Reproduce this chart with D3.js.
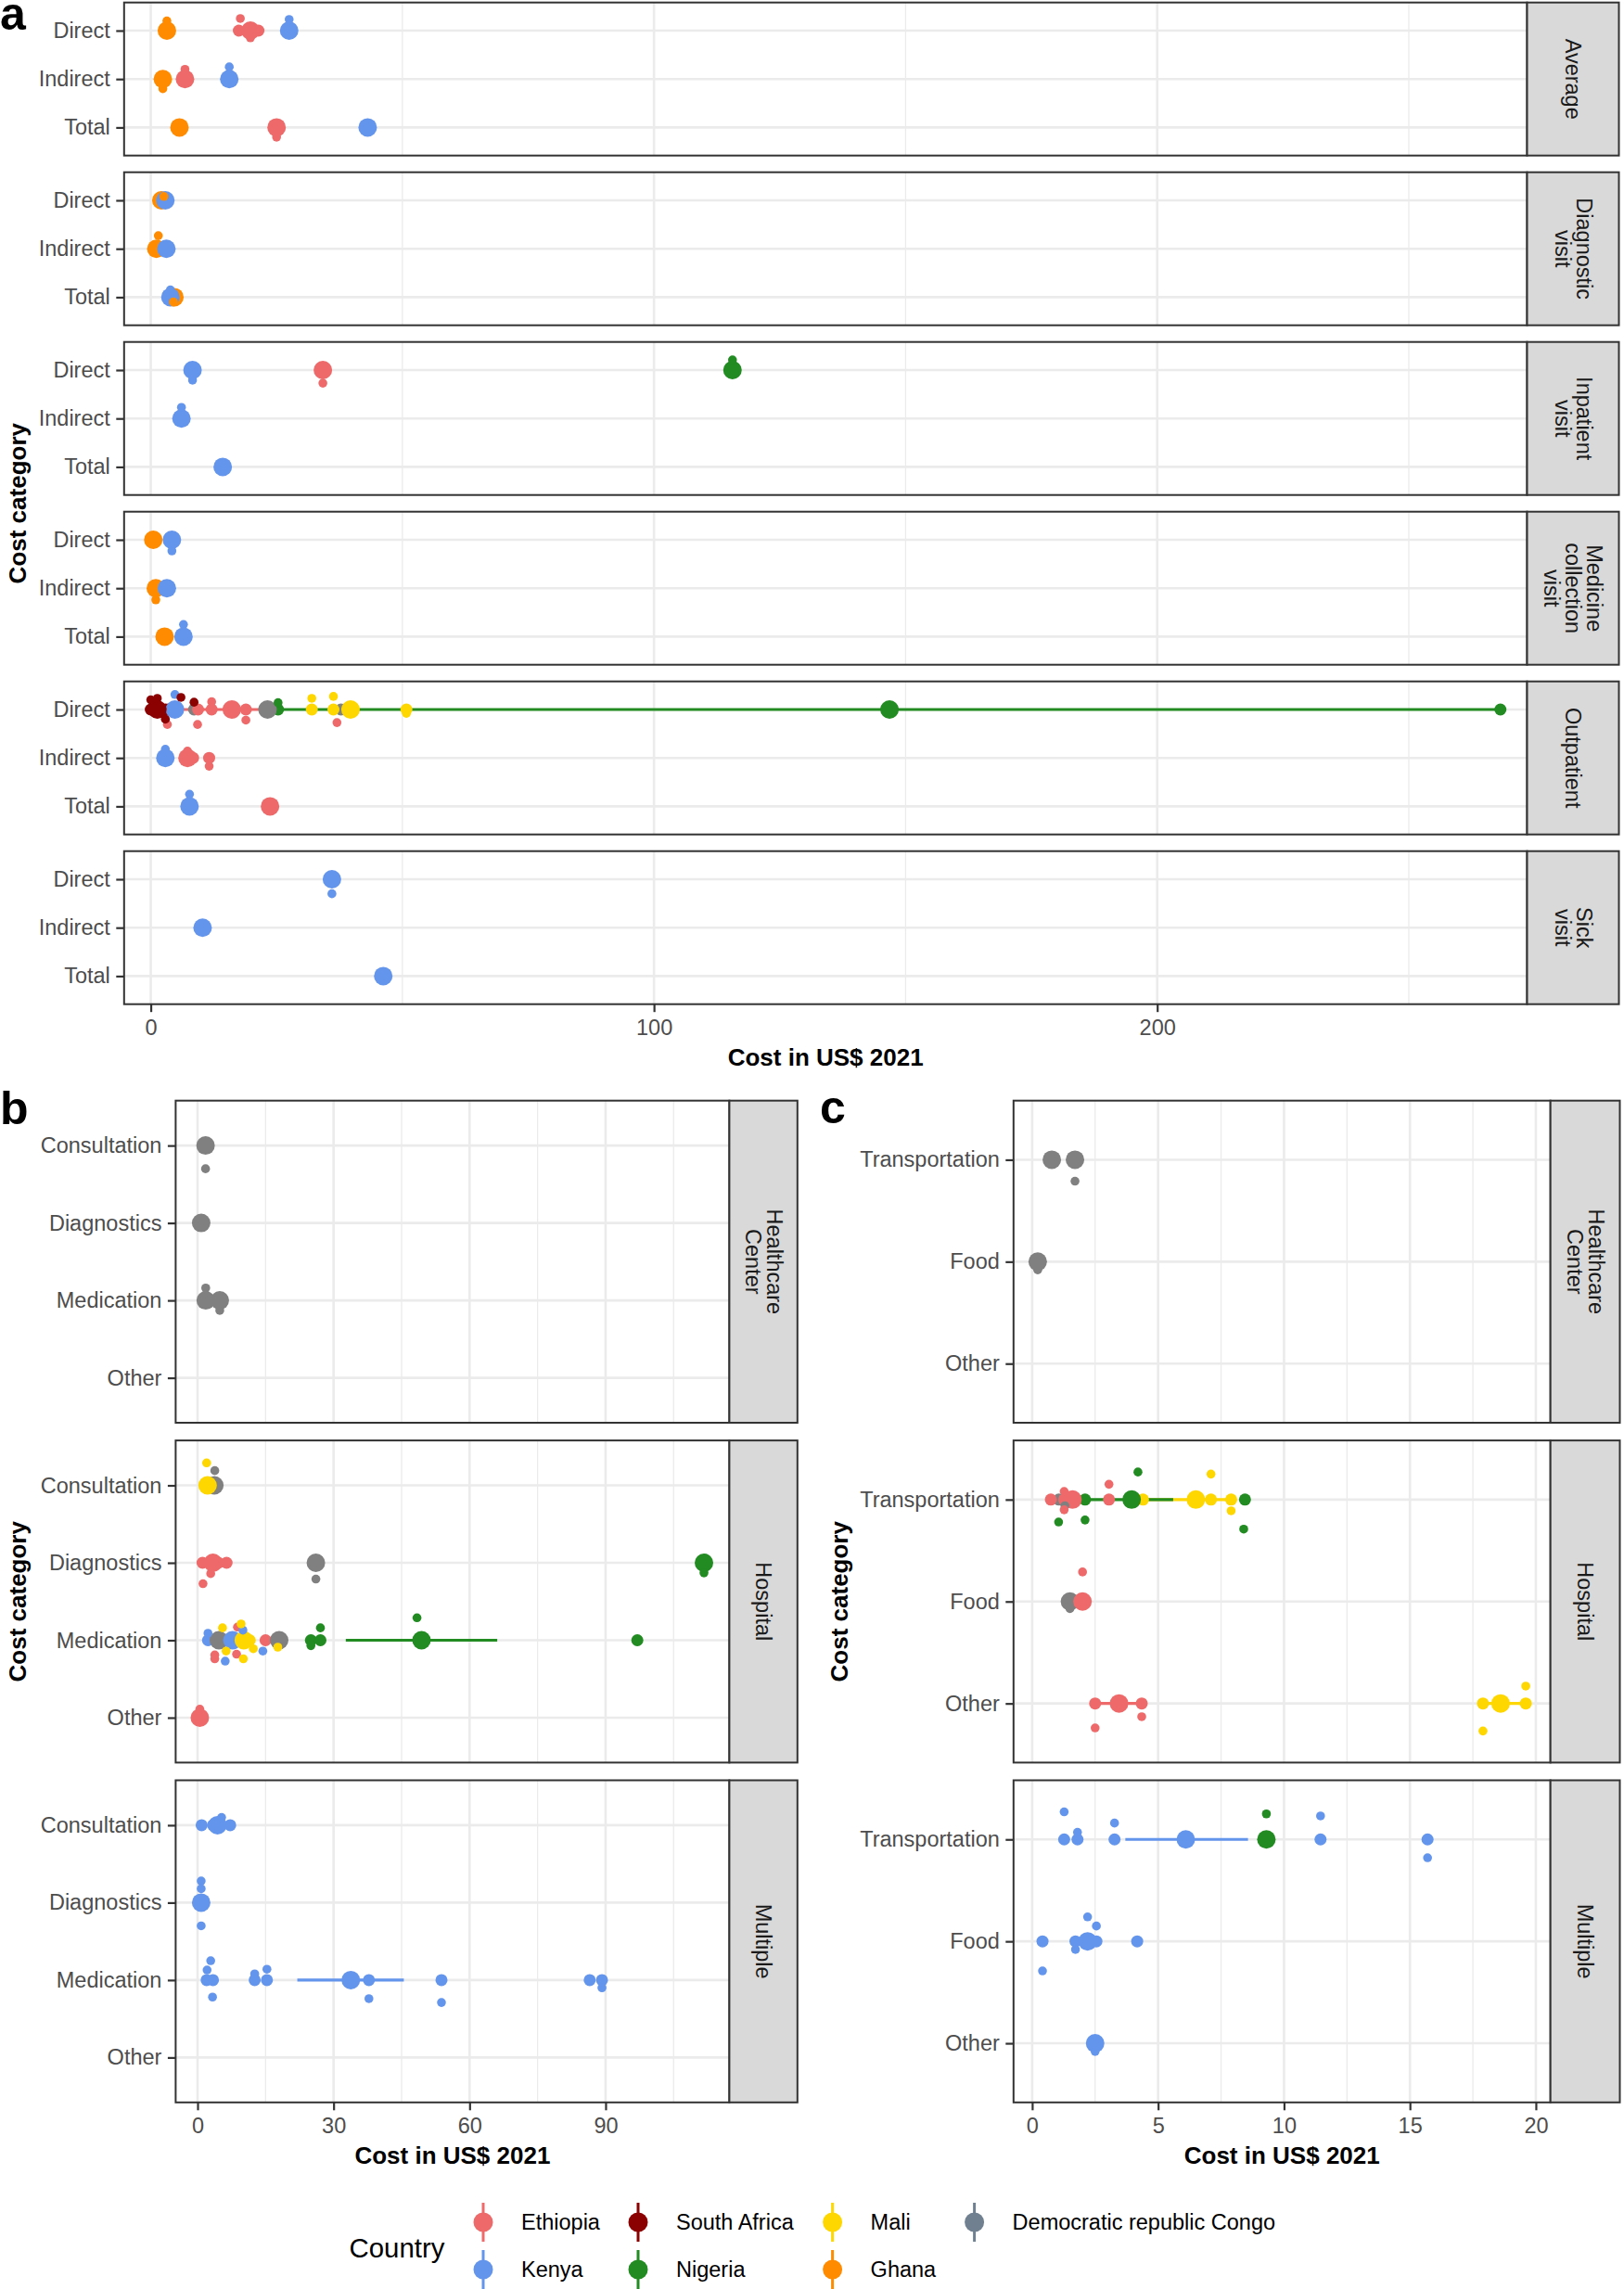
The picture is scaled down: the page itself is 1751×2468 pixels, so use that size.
<!DOCTYPE html>
<html><head><meta charset="utf-8">
<script src="https://cdn.jsdelivr.net/npm/d3@7"></script>
<style>
body{margin:0;background:#fff}
svg{display:block}
text{font-family:"Liberation Sans",Arial,Helvetica,sans-serif}
</style>
</head><body>
<svg id="chart" width="1751" height="2468"></svg>
<script>
// ---------------- DATA ----------------
const countryCodes = ["ET","KE","ZA","NG","ML","GH","CD"];
const countryNames = ["Ethiopia","Kenya","South Africa","Nigeria","Mali","Ghana","Democratic republic Congo"];
const countryColors = ["#EE6A6A","#6495ED","#8B0000","#228B22","#FFD700","#FF8C00","#808080"];
const legendColors = ["#EE6A6A","#6495ED","#8B0000","#228B22","#FFD700","#FF8C00","#708090"];

const facetsA = ["Average","Diagnostic visit","Inpatient visit","Medicine collection visit","Outpatient","Sick visit"];
const stripA = [["Average"],["Diagnostic","visit"],["Inpatient","visit"],["Medicine","collection","visit"],["Outpatient"],["Sick","visit"]];
const catsA = ["Direct","Indirect","Total"];
const ticksA = [0,100,200];
const minorA = [50,150,250];

const facetsBC = ["Healthcare Center","Hospital","Multiple"];
const stripBC = [["Healthcare","Center"],["Hospital"],["Multiple"]];
const catsB = ["Consultation","Diagnostics","Medication","Other"];
const ticksB = [0,30,60,90];
const minorB = [15,45,75,105];
const catsC = ["Transportation","Food","Other"];
const ticksC = [0,5,10,15,20];
const minorC = [2.5,7.5,12.5,17.5];

// [facet, category, country, cost, jitter (category units), kind: p=pooled, s=study, j=jittered study]
const pointsA = [
 ["Average","Direct","GH",3.2,0,"p"],["Average","Direct","GH",3.2,-0.2,"j"],
 ["Average","Direct","ET",17.5,0,"s"],["Average","Direct","ET",21.4,0,"s"],["Average","Direct","ET",19.8,0,"p"],
 ["Average","Direct","ET",17.8,-0.25,"j"],["Average","Direct","ET",19.8,0.15,"j"],
 ["Average","Direct","KE",27.5,0,"p"],["Average","Direct","KE",27.5,-0.23,"j"],
 ["Average","Indirect","GH",2.4,0,"p"],["Average","Indirect","GH",2.4,0.2,"j"],
 ["Average","Indirect","ET",6.8,0,"p"],["Average","Indirect","ET",6.8,-0.2,"j"],
 ["Average","Indirect","KE",15.6,0,"p"],["Average","Indirect","KE",15.6,-0.25,"j"],
 ["Average","Total","GH",5.7,0,"p"],
 ["Average","Total","ET",25.0,0,"p"],["Average","Total","ET",25.0,0.2,"j"],
 ["Average","Total","KE",43.1,0,"p"],
 ["Diagnostic visit","Direct","GH",2.1,0,"p"],["Diagnostic visit","Direct","KE",2.9,0,"p"],["Diagnostic visit","Direct","GH",2.6,-0.08,"j"],
 ["Diagnostic visit","Indirect","GH",1.1,0,"p"],["Diagnostic visit","Indirect","GH",1.5,-0.27,"j"],["Diagnostic visit","Indirect","KE",3.1,0,"p"],
 ["Diagnostic visit","Total","KE",3.9,0,"p"],["Diagnostic visit","Total","GH",4.7,0,"p"],["Diagnostic visit","Total","GH",4.5,0.1,"j"],["Diagnostic visit","Total","KE",3.9,-0.15,"j"],
 ["Inpatient visit","Direct","KE",8.3,0,"p"],["Inpatient visit","Direct","KE",8.3,0.21,"j"],
 ["Inpatient visit","Direct","ET",34.2,0,"p"],["Inpatient visit","Direct","ET",34.2,0.27,"j"],
 ["Inpatient visit","Direct","NG",115.6,0,"p"],["Inpatient visit","Direct","NG",115.6,-0.21,"j"],
 ["Inpatient visit","Indirect","KE",6.1,0,"p"],["Inpatient visit","Indirect","KE",6.1,-0.23,"j"],
 ["Inpatient visit","Total","KE",14.3,0,"p"],
 ["Medicine collection visit","Direct","GH",0.5,0,"p"],["Medicine collection visit","Direct","KE",4.2,0,"p"],["Medicine collection visit","Direct","KE",4.2,0.23,"j"],
 ["Medicine collection visit","Indirect","GH",1.0,0,"p"],["Medicine collection visit","Indirect","GH",1.0,0.24,"j"],["Medicine collection visit","Indirect","KE",3.2,0,"p"],
 ["Medicine collection visit","Total","GH",2.75,0,"p"],["Medicine collection visit","Total","KE",6.5,0,"p"],["Medicine collection visit","Total","KE",6.5,-0.25,"j"],
 ["Outpatient","Direct","ZA",0.0,0,"s"],["Outpatient","Direct","ZA",2.9,0,"s"],["Outpatient","Direct","ZA",3.5,0,"s"],["Outpatient","Direct","ZA",1.3,0,"p"],
 ["Outpatient","Direct","ZA",0.0,-0.2,"j"],["Outpatient","Direct","ZA",1.3,-0.23,"j"],["Outpatient","Direct","ZA",6.0,-0.25,"j"],["Outpatient","Direct","ZA",8.6,-0.15,"j"],["Outpatient","Direct","ZA",2.9,0.2,"j"],
 ["Outpatient","Direct","KE",4.8,0,"p"],["Outpatient","Direct","KE",4.8,-0.31,"j"],
 ["Outpatient","Direct","CD",8.6,0,"s"],["Outpatient","Direct","CD",23.2,0,"p"],["Outpatient","Direct","CD",37.8,0,"s"],
 ["Outpatient","Direct","ET",9.4,0,"s"],["Outpatient","Direct","ET",12.1,0,"s"],["Outpatient","Direct","ET",16.1,0,"p"],["Outpatient","Direct","ET",18.9,0,"s"],
 ["Outpatient","Direct","ET",12.1,-0.16,"j"],["Outpatient","Direct","ET",3.3,0.31,"j"],["Outpatient","Direct","ET",9.3,0.31,"j"],["Outpatient","Direct","ET",18.9,0.22,"j"],["Outpatient","Direct","ET",37.0,0.27,"j"],
 ["Outpatient","Direct","NG",25.3,0,"s"],["Outpatient","Direct","NG",25.3,-0.14,"j"],["Outpatient","Direct","NG",146.8,0,"p"],["Outpatient","Direct","NG",268.2,0,"s"],
 ["Outpatient","Direct","ML",32.0,0,"s"],["Outpatient","Direct","ML",32.0,-0.23,"j"],["Outpatient","Direct","ML",36.3,0,"s"],["Outpatient","Direct","ML",36.3,-0.27,"j"],
 ["Outpatient","Direct","ML",39.7,0,"p"],["Outpatient","Direct","ML",50.8,0,"s"],["Outpatient","Direct","ML",50.8,0.08,"j"],
 ["Outpatient","Indirect","KE",2.9,0,"p"],["Outpatient","Indirect","KE",2.9,-0.18,"j"],
 ["Outpatient","Indirect","ET",7.3,0,"p"],["Outpatient","Indirect","ET",8.4,0,"s"],["Outpatient","Indirect","ET",11.6,0,"s"],
 ["Outpatient","Indirect","ET",11.6,0.17,"j"],["Outpatient","Indirect","ET",7.3,-0.14,"j"],
 ["Outpatient","Total","KE",7.7,0,"p"],["Outpatient","Total","KE",7.7,-0.25,"j"],["Outpatient","Total","ET",23.7,0,"p"],
 ["Sick visit","Direct","KE",36.0,0,"p"],["Sick visit","Direct","KE",36.0,0.3,"j"],
 ["Sick visit","Indirect","KE",10.3,0,"p"],
 ["Sick visit","Total","KE",46.2,0,"p"]
];
// [facet, category, country, low, high]
const rangesA = [
 ["Outpatient","Direct","ET",6.5,22.0],
 ["Outpatient","Direct","NG",25.3,268.2]
];

const pointsB = [
 ["Healthcare Center","Consultation","CD",1.76,0,"p"],["Healthcare Center","Consultation","CD",1.76,0.3,"j"],
 ["Healthcare Center","Diagnostics","CD",0.8,0,"p"],
 ["Healthcare Center","Medication","CD",1.8,0,"p"],["Healthcare Center","Medication","CD",1.8,-0.16,"j"],
 ["Healthcare Center","Medication","CD",4.9,0,"p"],["Healthcare Center","Medication","CD",4.9,0.13,"j"],
 ["Hospital","Consultation","ML",2.2,0,"p"],["Hospital","Consultation","CD",3.7,0,"p"],
 ["Hospital","Consultation","ML",2.0,-0.29,"j"],["Hospital","Consultation","CD",3.8,-0.19,"j"],
 ["Hospital","Diagnostics","ET",1.1,0,"s"],["Hospital","Diagnostics","ET",4.6,0,"s"],["Hospital","Diagnostics","ET",6.4,0,"s"],["Hospital","Diagnostics","ET",3.4,0,"p"],
 ["Hospital","Diagnostics","ET",2.9,0.14,"j"],["Hospital","Diagnostics","ET",1.2,0.27,"j"],
 ["Hospital","Diagnostics","CD",26.1,0,"p"],["Hospital","Diagnostics","CD",26.1,0.21,"j"],
 ["Hospital","Diagnostics","NG",111.7,0,"p"],["Hospital","Diagnostics","NG",111.7,0.13,"j"],
 ["Hospital","Medication","KE",2.3,0,"s"],["Hospital","Medication","KE",7.7,0,"p"],
 ["Hospital","Medication","KE",6.1,0.27,"j"],["Hospital","Medication","KE",14.4,0.14,"j"],["Hospital","Medication","KE",10.0,-0.13,"j"],["Hospital","Medication","KE",2.3,-0.09,"j"],
 ["Hospital","Medication","CD",4.7,0,"p"],["Hospital","Medication","CD",18.0,0,"p"],
 ["Hospital","Medication","ML",11.5,0,"s"],["Hospital","Medication","ML",10.2,0,"p"],
 ["Hospital","Medication","ML",5.5,-0.16,"j"],["Hospital","Medication","ML",9.6,-0.21,"j"],["Hospital","Medication","ML",6.3,0.14,"j"],
 ["Hospital","Medication","ML",10.1,0.24,"j"],["Hospital","Medication","ML",12.3,0.11,"j"],["Hospital","Medication","ML",17.7,0.09,"j"],
 ["Hospital","Medication","ET",15.0,0,"s"],
 ["Hospital","Medication","ET",3.8,0.19,"j"],["Hospital","Medication","ET",3.8,0.24,"j"],["Hospital","Medication","ET",8.6,0.18,"j"],["Hospital","Medication","ET",8.8,-0.17,"j"],
 ["Hospital","Medication","NG",25.0,0,"s"],["Hospital","Medication","NG",27.1,0,"s"],["Hospital","Medication","NG",49.4,0,"p"],["Hospital","Medication","NG",97.0,0,"s"],
 ["Hospital","Medication","NG",27.1,-0.16,"j"],["Hospital","Medication","NG",25.0,0.07,"j"],["Hospital","Medication","NG",48.4,-0.29,"j"],
 ["Hospital","Other","ET",0.5,0,"p"],["Hospital","Other","ET",0.5,-0.11,"j"],
 ["Multiple","Consultation","KE",0.9,0,"s"],["Multiple","Consultation","KE",3.4,0,"s"],["Multiple","Consultation","KE",7.2,0,"s"],["Multiple","Consultation","KE",4.4,0,"p"],
 ["Multiple","Consultation","KE",5.3,-0.1,"j"],
 ["Multiple","Diagnostics","KE",0.8,0,"p"],["Multiple","Diagnostics","KE",0.8,-0.28,"j"],["Multiple","Diagnostics","KE",0.8,-0.18,"j"],["Multiple","Diagnostics","KE",0.8,0.3,"j"],
 ["Multiple","Medication","KE",2.0,0,"s"],["Multiple","Medication","KE",3.4,0,"s"],
 ["Multiple","Medication","KE",2.9,-0.25,"j"],["Multiple","Medication","KE",2.1,-0.13,"j"],["Multiple","Medication","KE",3.3,0.22,"j"],
 ["Multiple","Medication","KE",12.6,0,"s"],["Multiple","Medication","KE",15.3,0,"s"],["Multiple","Medication","KE",12.6,-0.08,"j"],["Multiple","Medication","KE",15.3,-0.14,"j"],
 ["Multiple","Medication","KE",33.8,0,"p"],
 ["Multiple","Medication","KE",37.8,0,"s"],["Multiple","Medication","KE",37.8,0.24,"j"],
 ["Multiple","Medication","KE",53.8,0,"s"],["Multiple","Medication","KE",53.8,0.29,"j"],
 ["Multiple","Medication","KE",86.5,0,"s"],["Multiple","Medication","KE",89.2,0,"s"],["Multiple","Medication","KE",89.2,0.1,"j"]
];
const rangesB = [
 ["Hospital","Medication","NG",32.7,66.1],
 ["Multiple","Medication","KE",22.0,45.5]
];

const pointsC = [
 ["Healthcare Center","Transportation","CD",0.78,0,"p"],["Healthcare Center","Transportation","CD",1.7,0,"p"],["Healthcare Center","Transportation","CD",1.7,0.21,"j"],
 ["Healthcare Center","Food","CD",0.22,0,"p"],["Healthcare Center","Food","CD",0.22,0.08,"j"],
 ["Hospital","Transportation","ET",0.74,0,"s"],["Hospital","Transportation","ET",1.27,0,"s"],["Hospital","Transportation","ET",1.72,0,"s"],["Hospital","Transportation","ET",3.05,0,"s"],
 ["Hospital","Transportation","ET",1.6,0,"p"],
 ["Hospital","Transportation","ET",1.27,-0.08,"j"],["Hospital","Transportation","ET",1.27,0.1,"j"],["Hospital","Transportation","ET",3.05,-0.15,"j"],
 ["Hospital","Transportation","CD",1.06,0,"s"],["Hospital","Transportation","CD",1.3,0.06,"j"],
 ["Hospital","Transportation","NG",2.1,0,"s"],["Hospital","Transportation","NG",8.45,0,"s"],["Hospital","Transportation","NG",3.95,0,"p"],
 ["Hospital","Transportation","NG",4.2,-0.27,"j"],["Hospital","Transportation","NG",1.05,0.22,"j"],["Hospital","Transportation","NG",2.1,0.2,"j"],["Hospital","Transportation","NG",8.4,0.29,"j"],
 ["Hospital","Transportation","ML",4.4,0,"s"],["Hospital","Transportation","ML",7.1,0,"s"],["Hospital","Transportation","ML",7.9,0,"s"],["Hospital","Transportation","ML",6.5,0,"p"],
 ["Hospital","Transportation","ML",7.1,-0.25,"j"],["Hospital","Transportation","ML",7.9,0.11,"j"],
 ["Hospital","Food","CD",1.5,0,"p"],["Hospital","Food","CD",1.5,0.07,"j"],
 ["Hospital","Food","ET",2.0,0,"p"],["Hospital","Food","ET",2.0,-0.29,"j"],
 ["Hospital","Other","ET",2.5,0,"s"],["Hospital","Other","ET",4.35,0,"s"],["Hospital","Other","ET",3.45,0,"p"],
 ["Hospital","Other","ET",4.35,0.13,"j"],["Hospital","Other","ET",2.5,0.24,"j"],
 ["Hospital","Other","ML",17.9,0,"s"],["Hospital","Other","ML",19.6,0,"s"],["Hospital","Other","ML",18.6,0,"p"],
 ["Hospital","Other","ML",19.6,-0.17,"j"],["Hospital","Other","ML",17.9,0.27,"j"],
 ["Multiple","Transportation","KE",1.27,0,"s"],["Multiple","Transportation","KE",1.8,0,"s"],["Multiple","Transportation","KE",3.27,0,"s"],
 ["Multiple","Transportation","KE",1.27,-0.27,"j"],["Multiple","Transportation","KE",1.8,-0.07,"j"],["Multiple","Transportation","KE",3.27,-0.16,"j"],
 ["Multiple","Transportation","KE",6.1,0,"p"],
 ["Multiple","Transportation","NG",9.3,0,"p"],["Multiple","Transportation","NG",9.3,-0.25,"j"],
 ["Multiple","Transportation","KE",11.45,0,"s"],["Multiple","Transportation","KE",11.45,-0.23,"j"],
 ["Multiple","Transportation","KE",15.7,0,"s"],["Multiple","Transportation","KE",15.7,0.18,"j"],
 ["Multiple","Food","KE",0.41,0,"s"],["Multiple","Food","KE",0.41,0.29,"j"],
 ["Multiple","Food","KE",1.72,0,"s"],["Multiple","Food","KE",1.72,0.08,"j"],
 ["Multiple","Food","KE",2.55,0,"s"],["Multiple","Food","KE",4.17,0,"s"],["Multiple","Food","KE",2.2,0,"p"],
 ["Multiple","Food","KE",2.2,-0.24,"j"],["Multiple","Food","KE",2.55,-0.15,"j"],
 ["Multiple","Other","KE",2.5,0,"p"],["Multiple","Other","KE",2.5,0.08,"j"]
];
const rangesC = [
 ["Hospital","Transportation","ML",4.4,7.9],
 ["Hospital","Transportation","NG",2.1,5.6],
 ["Hospital","Other","ET",2.5,4.35],
 ["Hospital","Other","ML",17.9,19.6],
 ["Multiple","Transportation","KE",3.7,8.57]
];

// ---------------- DRAWING ----------------
const svg = d3.select("#chart");
svg.append("rect").attr("width",1751).attr("height",2468).attr("fill","#fff");
const colorOf = d3.scaleOrdinal().domain(countryCodes).range(countryColors);
const nameOf = d3.scaleOrdinal().domain(countryCodes).range(countryNames);
const radius = {p:10, s:6.5, j:4.8};
const kindOrder = {s:0, p:1, j:2};
let clipId = 0;

function drawGroup(cfg){
  const x = d3.scaleLinear().domain(cfg.domain).range([cfg.left, cfg.right]);
  cfg.facets.forEach((f, i) => {
    const top = cfg.top0 + i * cfg.pitch;
    const bottom = top + cfg.H;
    const y = d3.scalePoint().domain(cfg.cats).range([top, bottom]).padding(0.58);
    const step = y.step();
    const g = svg.append("g");
    const id = "clip" + (clipId++);
    svg.append("clipPath").attr("id", id).append("rect")
      .attr("x", cfg.left).attr("y", top).attr("width", cfg.right - cfg.left).attr("height", cfg.H);
    // grid
    const grid = g.append("g");
    grid.selectAll(".mn").data(cfg.minor).join("line")
      .attr("x1", d => x(d)).attr("x2", d => x(d)).attr("y1", top).attr("y2", bottom)
      .attr("stroke", "#EBEBEB").attr("stroke-width", 1.3);
    grid.selectAll(".mj").data(cfg.ticks).join("line")
      .attr("x1", d => x(d)).attr("x2", d => x(d)).attr("y1", top).attr("y2", bottom)
      .attr("stroke", "#EBEBEB").attr("stroke-width", 2.6);
    grid.selectAll(".hz").data(cfg.cats).join("line")
      .attr("x1", cfg.left).attr("x2", cfg.right).attr("y1", d => y(d)).attr("y2", d => y(d))
      .attr("stroke", "#EBEBEB").attr("stroke-width", 2.6);
    const cg = g.append("g").attr("clip-path", `url(#${id})`);
    const rs = cfg.ranges.filter(r => r[0] === f).sort((a, b) => d3.ascending(nameOf(a[2]), nameOf(b[2])));
    cg.selectAll(".rng").data(rs).join("line")
      .attr("x1", d => x(d[3])).attr("x2", d => x(d[4]))
      .attr("y1", d => y(d[1])).attr("y2", d => y(d[1]))
      .attr("stroke", d => colorOf(d[2])).attr("stroke-width", 3.2);
    const ps = cfg.points.filter(p => p[0] === f).slice()
      .sort((a, b) => (kindOrder[a[5]] - kindOrder[b[5]]) || d3.ascending(nameOf(a[2]), nameOf(b[2])));
    cg.selectAll(".pt").data(ps).join("circle")
      .attr("cx", d => x(d[3])).attr("cy", d => y(d[1]) + d[4] * step)
      .attr("r", d => radius[d[5]]).attr("fill", d => colorOf(d[2]));
    // border
    g.append("rect").attr("x", cfg.left).attr("y", top).attr("width", cfg.right - cfg.left).attr("height", cfg.H)
      .attr("fill", "none").attr("stroke", "#333333").attr("stroke-width", 2);
    // strip
    g.append("rect").attr("x", cfg.right).attr("y", top).attr("width", cfg.stripRight - cfg.right).attr("height", cfg.H)
      .attr("fill", "#D9D9D9").attr("stroke", "#333333").attr("stroke-width", 2);
    const lines = cfg.strips[i];
    const sg = g.append("g").attr("transform", `translate(${(cfg.right + cfg.stripRight) / 2},${top + cfg.H / 2}) rotate(90)`);
    sg.selectAll("text").data(lines).join("text")
      .attr("x", 0).attr("y", (d, k) => (k - (lines.length - 1) / 2) * 23)
      .attr("text-anchor", "middle").attr("dominant-baseline", "central")
      .attr("font-size", 23.5).attr("fill", "#1A1A1A").text(d => d);
    // y axis
    const ya = g.append("g").attr("transform", `translate(${cfg.left},0)`)
      .call(d3.axisLeft(y).tickSize(8.5).tickPadding(6.5));
    ya.select(".domain").remove();
    ya.selectAll(".tick line").attr("stroke", "#333333").attr("stroke-width", 2.2);
    ya.selectAll(".tick text").attr("font-size", 23.5).attr("fill", "#4D4D4D")
      .attr("font-family", '"Liberation Sans",Arial,Helvetica,sans-serif');
    if (i === cfg.facets.length - 1) {
      const xa = g.append("g").attr("transform", `translate(0,${bottom})`)
        .call(d3.axisBottom(x).tickValues(cfg.ticks).tickSize(8.5).tickPadding(8.3));
      xa.select(".domain").remove();
      xa.selectAll(".tick line").attr("stroke", "#333333").attr("stroke-width", 2.2);
      xa.selectAll(".tick text").attr("font-size", 23.5).attr("fill", "#4D4D4D")
        .attr("font-family", '"Liberation Sans",Arial,Helvetica,sans-serif');
      g.append("text").attr("x", (cfg.left + cfg.right) / 2).attr("y", bottom + 66)
        .attr("text-anchor", "middle").attr("font-size", 26).attr("font-weight", "bold").text("Cost in US$ 2021");
    }
  });
  const midY = cfg.top0 + ((cfg.facets.length - 1) * cfg.pitch + cfg.H) / 2;
  svg.append("text").attr("transform", `translate(${cfg.ytitleX},${midY}) rotate(-90)`)
    .attr("text-anchor", "middle").attr("font-size", 26).attr("font-weight", "bold").text("Cost category");
}

drawGroup({facets: facetsA, strips: stripA, cats: catsA, domain: [-5.3, 273.5], left: 133.8, right: 1646.5, stripRight: 1745.5,
  top0: 2.7, pitch: 183, H: 165, ticks: ticksA, minor: minorA, points: pointsA, ranges: rangesA, ytitleX: 28});
drawGroup({facets: facetsBC, strips: stripBC, cats: catsB, domain: [-4.83, 117.3], left: 189.4, right: 786.4, stripRight: 859.8,
  top0: 1186.7, pitch: 366.4, H: 347.3, ticks: ticksB, minor: minorB, points: pointsB, ranges: rangesB, ytitleX: 28});
drawGroup({facets: facetsBC, strips: stripBC, cats: catsC, domain: [-0.74, 20.58], left: 1092.8, right: 1671.7, stripRight: 1746.5,
  top0: 1186.7, pitch: 366.4, H: 347.3, ticks: ticksC, minor: minorC, points: pointsC, ranges: rangesC, ytitleX: 914});

// panel tags
svg.append("text").attr("x", 0).attr("y", 32).attr("font-size", 50).attr("font-weight", "bold").text("a");
svg.append("text").attr("x", 0).attr("y", 1211.5).attr("font-size", 50).attr("font-weight", "bold").text("b");
svg.append("text").attr("x", 884).attr("y", 1211).attr("font-size", 50).attr("font-weight", "bold").text("c");

// legend
const legendCols = [521, 688, 897.6, 1050.6];
const legendRows = [2396, 2447];
const legendOrder = countryCodes.map((c, k) => ({code: c, name: countryNames[k], color: legendColors[k], col: Math.floor(k / 2), row: k % 2}));
svg.append("text").attr("x", 376.5).attr("y", 2423).attr("dominant-baseline", "central")
  .attr("font-size", 29.4).text("Country");
const lg = svg.append("g");
const items = lg.selectAll("g").data(legendOrder).join("g")
  .attr("transform", d => `translate(${legendCols[d.col]},${legendRows[d.row]})`);
items.append("line").attr("x1", 0).attr("x2", 0).attr("y1", -21).attr("y2", 21)
  .attr("stroke", d => d.color).attr("stroke-width", 3);
items.append("circle").attr("r", 10.5).attr("fill", d => d.color);
items.append("text").attr("x", 41).attr("y", 0).attr("dominant-baseline", "central")
  .attr("font-size", 23.5).text(d => d.name);
</script>
</body></html>
